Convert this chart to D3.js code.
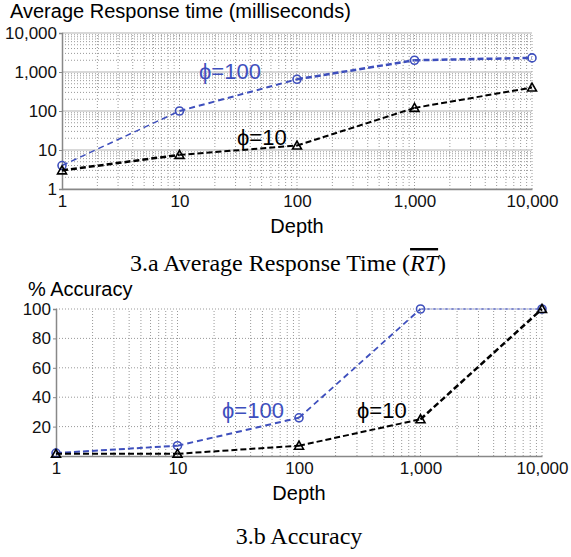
<!DOCTYPE html>
<html>
<head>
<meta charset="utf-8">
<script src="https://cdn.jsdelivr.net/npm/d3@7"></script>
<style>
  body { margin: 0; background: #fff; }
  text { font-family: "Liberation Sans", Arial, sans-serif; }
  .serif { font-family: "Liberation Serif", "Times New Roman", serif; }
</style>
</head>
<body>
<div id="chart"></div>
<script>
// data
const depths = [1, 10, 100, 1000, 10000];
const rtPhi100 = [4, 100, 650, 2000, 2300];
const rtPhi10 = [3, 7.5, 13, 120, 400];
const accPhi100 = [2, 7, 26, 100, 100];
const accPhi10 = [1.5, 1.5, 7, 25, 100];
const accTicks = [20, 40, 60, 80, 100];

const width = 571, height = 557;
const blue = "#3e4fbd";

const svg = d3.select("#chart")
    .append("svg")
    .attr("width", width)
    .attr("height", height);

// minor log positions 2..9 per decade
function logMinors(maxExp) {
    const out = [];
    for (let e = 0; e < maxExp; e++)
        for (let m = 2; m <= 9; m++) out.push(m * Math.pow(10, e));
    return out;
}

function drawSeries(g, x, y, vals, color, marker, widths, dashes) {
    for (let i = 0; i < depths.length - 1; i++) {
        g.append("line")
            .attr("x1", x(depths[i])).attr("y1", y(vals[i]))
            .attr("x2", x(depths[i + 1])).attr("y2", y(vals[i + 1]))
            .attr("stroke", color)
            .attr("stroke-width", widths[i])
            .attr("stroke-dasharray", dashes[i]);
    }
    depths.forEach((d, i) => {
        const cx = x(d), cy = y(vals[i]);
        if (marker === "circle") {
            g.append("circle")
                .attr("cx", cx).attr("cy", cy).attr("r", 4)
                .attr("fill", "none").attr("stroke", color).attr("stroke-width", 1.6);
        } else {
            g.append("path")
                .attr("d", `M${cx},${cy - 4.5}L${cx + 4.5},${cy + 3.5}L${cx - 4.5},${cy + 3.5}Z`)
                .attr("fill", "none").attr("stroke", color).attr("stroke-width", 1.6);
        }
    });
}

// ---------- 3.a response time ----------
const x1 = d3.scaleLog().domain([1, 10000]).range([62, 532]);
const y1 = d3.scaleLog().domain([1, 10000]).range([189, 33]);
const rtChart = svg.append("g");

// grid
rtChart.selectAll(".vminor").data(logMinors(4)).join("line")
    .attr("x1", d => x1(d)).attr("x2", d => x1(d))
    .attr("y1", y1(1)).attr("y2", y1(10000))
    .attr("stroke", "#999").attr("stroke-dasharray", "1,2");
rtChart.selectAll(".hminor").data(logMinors(4)).join("line")
    .attr("y1", d => y1(d)).attr("y2", d => y1(d))
    .attr("x1", x1(1)).attr("x2", x1(10000))
    .attr("stroke", "#999").attr("stroke-dasharray", "1,2");
rtChart.selectAll(".hmajor").data(depths).join("line")
    .attr("y1", d => y1(d)).attr("y2", d => y1(d))
    .attr("x1", x1(1)).attr("x2", x1(10000))
    .attr("stroke", "#ccc").attr("stroke-width", 1.5);
rtChart.selectAll(".vmajor").data(depths.slice(1)).join("line")
    .attr("x1", d => x1(d)).attr("x2", d => x1(d))
    .attr("y1", y1(1)).attr("y2", y1(10000))
    .attr("stroke", "#999").attr("stroke-dasharray", "1,2");

// axes
rtChart.append("g")
    .attr("transform", `translate(0,${y1(1)})`)
    .call(d3.axisBottom(x1).tickValues(depths).tickFormat(d3.format(",")).tickSize(0).tickPadding(6))
    .call(g => g.select(".domain").attr("stroke", "#888").attr("stroke-width", 1.5))
    .call(g => g.selectAll("text").attr("font-size", 17).attr("fill", "#111"));
rtChart.append("g")
    .attr("transform", `translate(${x1(1)},0)`)
    .call(d3.axisLeft(y1).tickValues(depths).tickFormat(d3.format(",")).tickSize(3).tickPadding(2))
    .call(g => g.select(".domain").attr("stroke", "#888").attr("stroke-width", 1.5))
    .call(g => g.selectAll(".tick line").attr("stroke", "#888"))
    .call(g => g.selectAll("text").attr("font-size", 17).attr("fill", "#111"));

drawSeries(rtChart, x1, y1, rtPhi100, blue, "circle", [1.5, 2, 2.5, 2.5], ["6,4", "6,4", "6,3", "6,3"]);
drawSeries(rtChart, x1, y1, rtPhi10, "#000", "tri", [2.5, 2, 2, 2], ["6,3", "6,3", "6,3", "6,3"]);

rtChart.append("text").attr("x", 10).attr("y", 18).attr("font-size", 20)
    .text("Average Response time (milliseconds)");
rtChart.append("text").attr("x", 199).attr("y", 79).attr("font-size", 22).attr("fill", blue).text("ϕ=100");
rtChart.append("text").attr("x", 237).attr("y", 145).attr("font-size", 22).text("ϕ=10");
rtChart.append("text").attr("x", 297).attr("y", 233).attr("font-size", 20)
    .attr("text-anchor", "middle").text("Depth");

const cap1 = rtChart.append("text").attr("class", "serif")
    .attr("x", 288).attr("y", 271).attr("font-size", 24).attr("text-anchor", "middle");
cap1.append("tspan").text("3.a Average Response Time (");
cap1.append("tspan").attr("font-style", "italic").style("text-decoration", "overline").text("RT");
cap1.append("tspan").text(")");

// ---------- 3.b accuracy ----------
const x2 = d3.scaleLog().domain([1, 10000]).range([56, 542]);
const y2 = d3.scaleLinear().domain([0, 100]).range([456, 309]);
const accChart = svg.append("g");

accChart.selectAll(".vminor").data(logMinors(4).concat(depths.slice(1))).join("line")
    .attr("x1", d => x2(d)).attr("x2", d => x2(d))
    .attr("y1", y2(0)).attr("y2", y2(100))
    .attr("stroke", "#999").attr("stroke-dasharray", "1,2");
accChart.selectAll(".hgrid").data(accTicks).join("line")
    .attr("y1", d => y2(d)).attr("y2", d => y2(d))
    .attr("x1", x2(1)).attr("x2", x2(10000))
    .attr("stroke", "#999").attr("stroke-dasharray", "1,2");

accChart.append("g")
    .attr("transform", `translate(0,${y2(0)})`)
    .call(d3.axisBottom(x2).tickValues(depths).tickFormat(d3.format(",")).tickSize(0).tickPadding(6))
    .call(g => g.select(".domain").attr("stroke", "#888").attr("stroke-width", 1.5))
    .call(g => g.selectAll("text").attr("font-size", 17).attr("fill", "#111"));
accChart.append("g")
    .attr("transform", `translate(${x2(1)},0)`)
    .call(d3.axisLeft(y2).tickValues(accTicks).tickSize(3).tickPadding(2))
    .call(g => g.select(".domain").attr("stroke", "#888").attr("stroke-width", 1.5))
    .call(g => g.selectAll(".tick line").attr("stroke", "#888"))
    .call(g => g.selectAll("text").attr("font-size", 17).attr("fill", "#111"));

drawSeries(accChart, x2, y2, accPhi100, blue, "circle", [2, 2, 1.8, 1], ["6,3", "6,4", "6,4", "4,2"]);
drawSeries(accChart, x2, y2, accPhi10, "#000", "tri", [2, 2, 2, 2.5], ["6,3", "6,3", "6,3", "6,3"]);

accChart.append("text").attr("x", 28).attr("y", 296).attr("font-size", 20).text("% Accuracy");
accChart.append("text").attr("x", 222).attr("y", 418).attr("font-size", 22).attr("fill", blue).text("ϕ=100");
accChart.append("text").attr("x", 357).attr("y", 418).attr("font-size", 22).text("ϕ=10");
accChart.append("text").attr("x", 299).attr("y", 500).attr("font-size", 20)
    .attr("text-anchor", "middle").text("Depth");
accChart.append("text").attr("class", "serif")
    .attr("x", 299).attr("y", 544).attr("font-size", 24).attr("text-anchor", "middle")
    .text("3.b Accuracy");
</script>
</body>
</html>
